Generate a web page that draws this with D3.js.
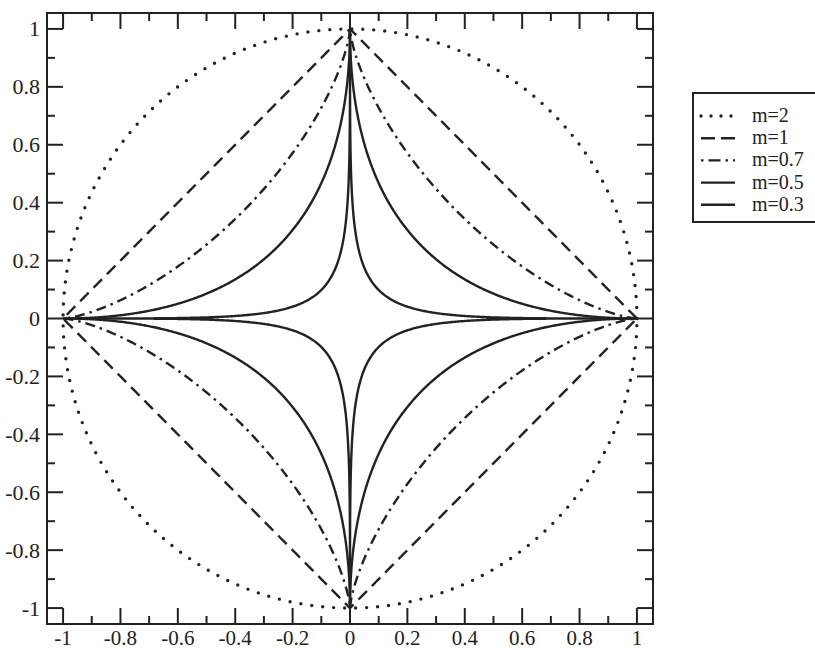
<!DOCTYPE html>
<html>
<head>
<meta charset="utf-8">
<script src="https://cdn.jsdelivr.net/npm/d3@7"></script>
<style>
  body { margin: 0; background: #fff; }
  svg text { font-family: "Liberation Serif", "DejaVu Serif", serif; fill: #222; }
</style>
</head>
<body>
<script>
// exponents of the curves |x|^m + |y|^m = 1
var mValues = [2, 1, 0.7, 0.5, 0.3];
var labels = ["m=2", "m=1", "m=0.7", "m=0.5", "m=0.3"];
var dashes = ["0,11", "12,7", "10,5,2.5,5", null, null];
var majorTicks = [-1, -0.8, -0.6, -0.4, -0.2, 0, 0.2, 0.4, 0.6, 0.8, 1];
var minorTicks = [-0.9, -0.7, -0.5, -0.3, -0.1, 0.1, 0.3, 0.5, 0.7, 0.9];

var w = 815, h = 650;
var ink = "#222";

var svg = d3.select("body").append("svg")
  .attr("width", w).attr("height", h);

var x = d3.scaleLinear().domain([-1.056, 1.056]).range([47, 653]);
var y = d3.scaleLinear().domain([-1.055, 1.055]).range([624, 13]);

function fmt(d) { return String(Math.round(d * 10) / 10); }

// frame
svg.append("rect")
  .attr("x", x(-1.056)).attr("y", y(1.055))
  .attr("width", x(1.056) - x(-1.056)).attr("height", y(-1.055) - y(1.055))
  .attr("fill", "none").attr("stroke", ink).attr("stroke-width", 2);

var ticks = svg.append("g").attr("stroke", ink).attr("stroke-width", 2);
function addTicks(vals, len) {
  vals.forEach(function(v) {
    ticks.append("line").attr("x1", x(v)).attr("x2", x(v)).attr("y1", y(-1.055)).attr("y2", y(-1.055) - len);
    ticks.append("line").attr("x1", x(v)).attr("x2", x(v)).attr("y1", y(1.055)).attr("y2", y(1.055) + len);
    ticks.append("line").attr("y1", y(v)).attr("y2", y(v)).attr("x1", x(-1.056)).attr("x2", x(-1.056) + len);
    ticks.append("line").attr("y1", y(v)).attr("y2", y(v)).attr("x1", x(1.056)).attr("x2", x(1.056) - len);
  });
}
addTicks(majorTicks, 16);
addTicks(minorTicks, 8);

// tick labels
svg.append("g").selectAll("text")
  .data(majorTicks).enter().append("text")
  .attr("x", function(d) { return x(d); })
  .attr("y", 645)
  .attr("text-anchor", "middle")
  .attr("font-size", 21)
  .text(fmt);

svg.append("g").selectAll("text")
  .data(majorTicks).enter().append("text")
  .attr("x", 40)
  .attr("y", function(d) { return y(d) + 7.5; })
  .attr("text-anchor", "end")
  .attr("font-size", 22)
  .text(fmt);

// curves
var tSteps = d3.range(0, 2001).map(function(i) { return i / 2000 * 2 * Math.PI; });
function curvePoints(m) {
  return tSteps.map(function(t) {
    var c = Math.cos(t), s = Math.sin(t);
    return [Math.sign(c) * Math.pow(Math.abs(c), 2 / m), Math.sign(s) * Math.pow(Math.abs(s), 2 / m)];
  });
}
var line = d3.line().x(function(d) { return x(d[0]); }).y(function(d) { return y(d[1]); });

mValues.forEach(function(m, i) {
  svg.append("path")
    .attr("d", line(curvePoints(m)))
    .attr("fill", "none")
    .attr("stroke", ink)
    .attr("stroke-width", i == 0 ? 3.4 : 2.4)
    .attr("stroke-linecap", i == 0 ? "round" : "butt")
    .attr("stroke-dasharray", dashes[i]);
});

// legend
var lg = svg.append("g");
lg.append("rect")
  .attr("x", 693).attr("y", 93).attr("width", 140).attr("height", 129)
  .attr("fill", "#fff").attr("stroke", ink).attr("stroke-width", 2);
labels.forEach(function(lab, i) {
  var ly = 116 + i * 22.2;
  lg.append("line")
    .attr("x1", 701).attr("x2", 735).attr("y1", ly).attr("y2", ly)
    .attr("stroke", ink)
    .attr("stroke-width", i == 0 ? 3.4 : 2.4)
    .attr("stroke-linecap", i == 0 ? "round" : "butt")
    .attr("stroke-dasharray", i == 0 ? "0,10" : i == 1 ? "14,6" : i == 2 ? "2.5,5,12,5" : null);
  lg.append("text")
    .attr("x", 752).attr("y", ly + 6)
    .attr("font-size", 20)
    .text(lab);
});
</script>
</body>
</html>
